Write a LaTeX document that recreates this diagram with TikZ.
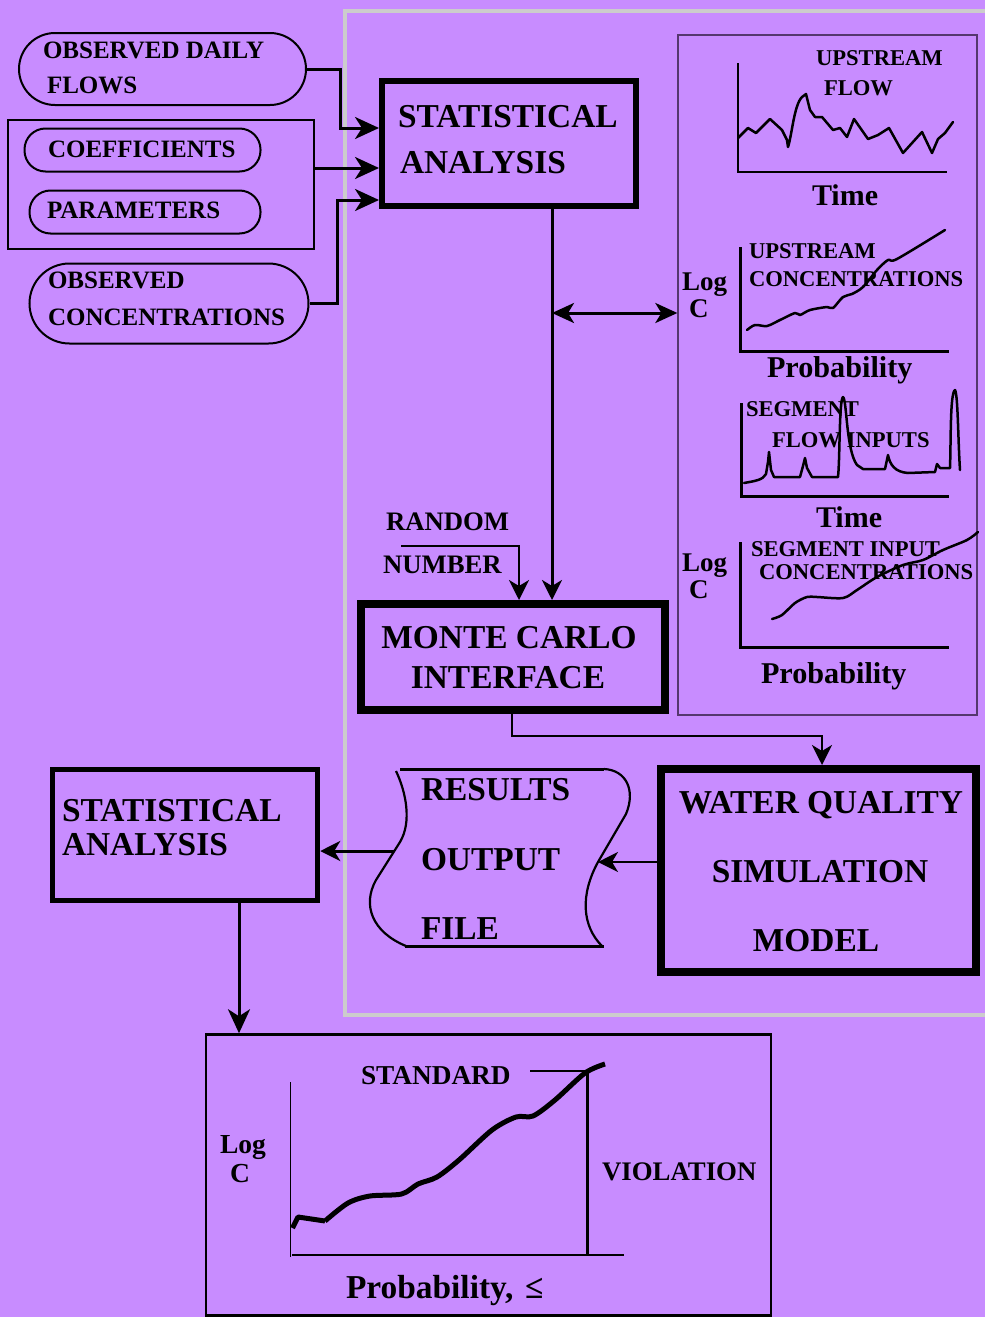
\documentclass[tikz,border=0pt]{standalone}
\usepackage{fontspec}
\setmainfont{Liberation Serif}
\usetikzlibrary{arrows.meta,calc}
\definecolor{bg}{RGB}{200,140,255}
\definecolor{framec}{RGB}{204,204,204}
\definecolor{panelc}{RGB}{85,55,110}
\newcommand{\fsz}[1]{\fontsize{#1}{#1}\selectfont\bfseries}
\begin{document}
\begin{tikzpicture}[x=1pt,y=-1pt,
  lbl/.style={anchor=base west,inner sep=0pt,outer sep=0pt,text=black},
  lblc/.style={anchor=base,inner sep=0pt,outer sep=0pt,text=black},
  rbox/.style={draw=black,line width=2pt,rounded corners=#1,inner sep=0pt},
  tbox/.style={draw=black,line width=#1,inner sep=0pt},
  arr/.style={line width=3pt,-{Stealth[length=24pt,width=22pt,inset=7pt]}},
  sarr/.style={line width=2.2pt,-{Stealth[length=20pt,width=20pt,inset=6pt]}},
  darr/.style={line width=3pt,{Stealth[length=22pt,width=20pt,inset=6pt]}-{Stealth[length=22pt,width=20pt,inset=6pt]}},
  curve/.style={line width=2.5pt,line join=round,line cap=round},
  axis/.style={line width=#1,line cap=butt}
]
% background and bounding box
\fill[bg] (0,0) rectangle (985,1317);
\useasboundingbox (0,0) rectangle (985,1317);
% grey frame
\draw[framec,line width=4.5pt] (345,11) rectangle (1000,1015);

% ---------- input boxes ----------
\node[rbox=36pt,minimum width=287pt,minimum height=72pt] (obsflow) at (162.5,69) {};
\node[tbox=2pt,minimum width=306pt,minimum height=129pt] (coefrect) at (160.5,184) {};
\node[rbox=21pt,minimum width=236pt,minimum height=43pt] (coef) at (142.5,150) {};
\node[rbox=21pt,minimum width=231pt,minimum height=43pt] (param) at (145,212) {};
\node[rbox=40pt,minimum width=279pt,minimum height=80pt] (obsconc) at (169,303.5) {};
\node[lbl] at (43,58) {\fsz{25}OBSERVED DAILY};
\node[lbl] at (47,93) {\fsz{25}FLOWS};
\node[lbl] at (48,157) {\fsz{25}COEFFICIENTS};
\node[lbl] at (47,218) {\fsz{25}PARAMETERS};
\node[lbl] at (48,288) {\fsz{25}OBSERVED};
\node[lbl] at (48,325) {\fsz{25}CONCENTRATIONS};

% ---------- main boxes ----------
\node[tbox=6pt,minimum width=254pt,minimum height=125pt] (sa1) at (509,143.5) {};
\node[lbl] at (398,127) {\fsz{33.4}STATISTICAL};
\node[lbl] at (400,173) {\fsz{33.4}ANALYSIS};

\node[tbox=8pt,minimum width=304pt,minimum height=106pt] (mc) at (512.5,657) {};
\node[lblc] at (509,648) {\fsz{33.4}MONTE CARLO};
\node[lblc] at (508,688) {\fsz{33.4}INTERFACE};

\node[tbox=8pt,minimum width=315pt,minimum height=203pt] (wq) at (818.5,870.5) {};
\node[lblc] at (821,813) {\fsz{33.4}WATER QUALITY};
\node[lblc] at (820,882) {\fsz{33.4}SIMULATION};
\node[lblc] at (816,951) {\fsz{33.4}MODEL};

\node[tbox=5.5pt,minimum width=265pt,minimum height=131pt] (sa2) at (185,835) {};
\node[lbl] at (62,821) {\fsz{33.4}STATISTICAL};
\node[lbl] at (62,855) {\fsz{33.4}ANALYSIS};

% results output file (document shape)
\draw[line width=3pt] (400,769) -- (604,769);
\draw[line width=3pt] (405,946) -- (604,946);
\draw[line width=2.2pt] (604,769) .. controls (626,770) and (636,790) .. (626,814)
  -- (598,862) .. controls (580,895) and (582,926) .. (602,946);
\draw[line width=2.2pt] (396,771) .. controls (406,792) and (412,822) .. (400,842)
  -- (376,880) .. controls (362,905) and (372,932) .. (406,946);
\coordinate (resL) at (394,851);
\coordinate (resR) at (598,862);
\node[lbl] at (421,800) {\fsz{33.4}RESULTS};
\node[lbl] at (421,870) {\fsz{33.4}OUTPUT};
\node[lbl] at (421,939) {\fsz{33.4}FILE};

% random number
\node[lbl] at (386,530) {\fsz{26.7}RANDOM};
\node[lbl] at (383,573) {\fsz{26.7}NUMBER};
\coordinate (rn) at (401,546);
\coordinate (rnx) at (519,0);

% ---------- connectors ----------
\coordinate (in1) at (0,128);
\coordinate (in2) at (0,168);
\coordinate (in3) at (0,200);
\draw[arr] (obsflow.east) -- ++(33,0) |- (sa1.west |- in1);
\draw[arr] (coefrect.east |- in2) -- (sa1.west |- in2);
\draw[arr] (obsconc.east) -- ++(28,0) |- (sa1.west |- in3);

\coordinate (vx) at (552,313);
\draw[sarr,line width=3pt] (sa1.south -| vx) -- (mc.north -| vx);
\draw[sarr] (rn) -| (mc.north -| rnx);

\coordinate (mcw) at (512,736);
\coordinate (wqin) at (822,736);
\draw[sarr,line width=2.5pt] (mc.south -| mcw) -- (mcw) -- (wqin) -- (wq.north -| wqin);
\draw[sarr,line width=2.5pt] (wq.west |- resR) -- (resR);
\draw[sarr,line width=3pt] (resL) -- (sa2.east |- resL);
\coordinate (dn) at (239,0);

% ---------- right chart panel ----------
\node[draw=panelc,line width=1.3pt,minimum width=299pt,minimum height=680pt,inner sep=0pt] (panel) at (827.5,375) {};
\draw[darr] (vx) -- (panel.west |- vx);

% chart 1
\draw[axis=1.5pt] (738,63) -- (738,172) -- (947,172);
\draw[curve] (738,138) -- (748,128) -- (756,133) -- (770,119) -- (782,130) -- (787,140) -- (788,147)
  .. controls (792,135) and (794,105) .. (802,97) -- (806,94) -- (810,110) -- (815,117) -- (822,117)
  -- (833,130) -- (840,128) -- (847,137) -- (854,119) -- (868,139) -- (878,135) -- (889,128)
  -- (903,153) -- (922,132) -- (932,153) -- (938,139) -- (945,133) -- (953,122);
\node[lbl] at (816,65) {\fsz{22.6}UPSTREAM};
\node[lbl] at (824,95) {\fsz{22.6}FLOW};
\node[lbl] at (812,205) {\fsz{30}Time};

% chart 2
\draw[axis=3pt] (740,247) -- (740,351) -- (949,351);
\draw[curve] plot[smooth,tension=0.5] coordinates {(747,330) (755,325) (767,326) (780,320) (795,313) (800,315) (810,310) (827,307) (833,308) (843,297) (852,294) (863,287) (877,270) (888,260) (897,259) (945,230)};
\node[lbl] at (682,290) {\fsz{27}Log};
\node[lbl] at (689,317) {\fsz{27}C};
\node[lbl] at (749,258) {\fsz{22.6}UPSTREAM};
\node[lbl] at (749,286) {\fsz{22.6}CONCENTRATIONS};
\node[lbl] at (767,377) {\fsz{30.2}Probability};

% chart 3
\draw[axis=3pt] (741,403) -- (741,496) -- (949,496);
\draw[curve] (744,483) .. controls (755,481) and (763,480) .. (766,474) -- (768,462) -- (769,452) -- (771,470)
  -- (774,477) -- (800,477) -- (803,466) -- (805,458) -- (807,468) -- (812,477) -- (838,477)
  .. controls (840,460) and (839,400) .. (843,397) .. controls (847,400) and (846,450) .. (857,465)
  -- (863,469) -- (885,469) -- (888,455) .. controls (890,465) and (895,472) .. (908,473)
  -- (935,472) -- (937,464) -- (940,468) -- (950,468) .. controls (951,440) and (950,393) .. (955,390)
  .. controls (958,395) and (958,440) .. (960,470);
\node[lbl] at (746,416) {\fsz{22.6}SEGMENT};
\node[lbl] at (772,447) {\fsz{22.6}FLOW INPUTS};
\node[lbl] at (816,527) {\fsz{30}Time};

% chart 4
\draw[axis=3pt] (740,542) -- (740,647) -- (949,647);
\draw[curve] plot[smooth,tension=0.5] coordinates {(772,619) (782,615) (795,603) (807,597) (817,597) (843,598) (857,590) (877,577) (903,565) (923,560) (943,550) (967,540) (978,532)};
\node[lbl] at (682,571) {\fsz{27}Log};
\node[lbl] at (689,598) {\fsz{27}C};
\node[lbl] at (751,556) {\fsz{22.6}SEGMENT INPUT};
\node[lbl] at (759,579) {\fsz{22.6}CONCENTRATIONS};
\node[lbl] at (761,683) {\fsz{30.2}Probability};

% ---------- bottom result chart ----------
\node[tbox=2.5pt,minimum width=565pt,minimum height=281pt] (bot) at (488.5,1175) {};
\draw[arr] (sa2.south -| dn) -- (bot.north -| dn);
\draw[axis=1.5pt] (290.6,1082) -- (290.6,1257);
\draw[axis=1.5pt] (292,1255) -- (623.6,1255);
\draw[line width=2.5pt] (530,1071) -- (588,1071);
\draw[line width=2.5pt] (587.7,1071) -- (587.7,1255);
\draw[line width=5pt,line join=round] (292.5,1228) -- (298,1217) -- (325,1221)
  plot[smooth,tension=0.5] coordinates {(325,1221) (348,1203) (370,1196) (401.6,1194) (418,1184) (437,1177) (459,1160) (492,1130) (516,1117) (533,1116) (555,1100) (585,1073) (605,1064)};
\node[lbl] at (361,1084) {\fsz{27.3}STANDARD};
\node[lbl] at (220,1153) {\fsz{27.5}Log};
\node[lbl] at (230,1182) {\fsz{27.5}C};
\node[lbl] at (602,1180) {\fsz{26.8}VIOLATION};
\node[lbl] at (346,1298) {\fsz{33.4}Probability,\hspace{0.35em}≤};
\end{tikzpicture}
\end{document}
